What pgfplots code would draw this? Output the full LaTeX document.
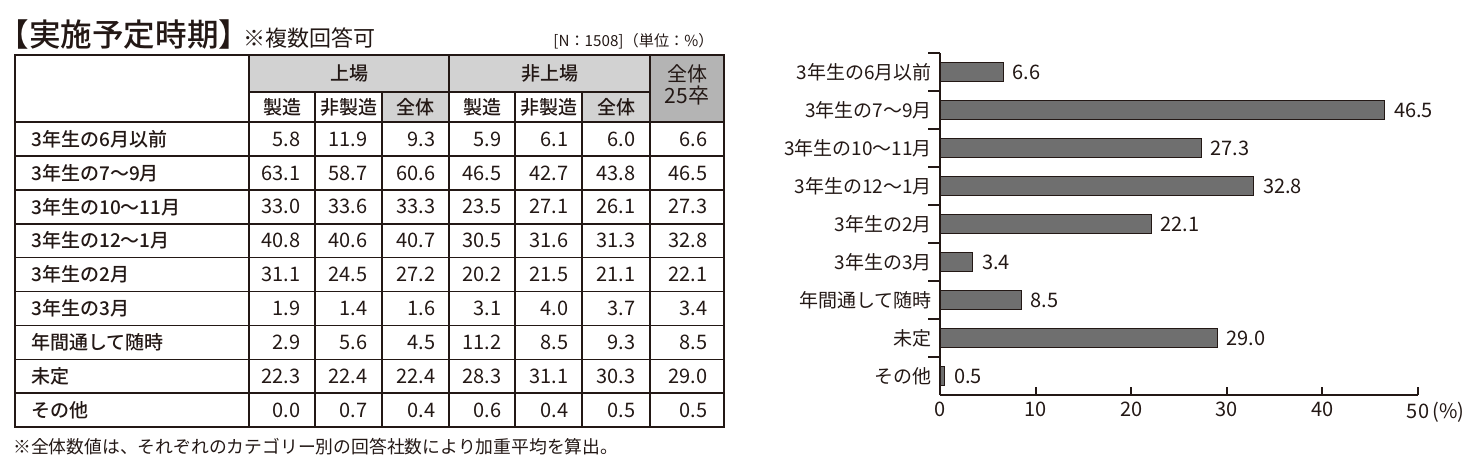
\documentclass[border=0pt]{standalone}
\usepackage{fontspec}
\setmainfont{Noto Sans CJK JP}[BoldFont={Noto Sans CJK JP Medium}]
\usepackage{pgfplots}
\usepackage{pgfplotstable}
\pgfplotsset{compat=1.18}
\pgfkeys{/pgf/number format/assume math mode=true}

\definecolor{ink}{HTML}{231815}
\definecolor{hdr}{HTML}{D2D2D2}
\definecolor{hdrdark}{HTML}{B4B4B4}
\definecolor{barfill}{HTML}{6F6F6F}

\newcommand\numsize{\fontsize{10}{12}\selectfont}
\newcommand\labsize{\fontsize{9.5}{11}\selectfont}

% columns: a-c = 上場 (製造, 非製造, 全体), d-f = 非上場, g = 全体25卒
\pgfplotstableread{
label a b c d e f g
3年生の6月以前 5.8 11.9 9.3 5.9 6.1 6.0 6.6
3年生の7〜9月 63.1 58.7 60.6 46.5 42.7 43.8 46.5
3年生の10〜11月 33.0 33.6 33.3 23.5 27.1 26.1 27.3
3年生の12〜1月 40.8 40.6 40.7 30.5 31.6 31.3 32.8
3年生の2月 31.1 24.5 27.2 20.2 21.5 21.1 22.1
3年生の3月 1.9 1.4 1.6 3.1 4.0 3.7 3.4
年間通して随時 2.9 5.6 4.5 11.2 8.5 9.3 8.5
未定 22.3 22.4 22.4 28.3 31.1 30.3 29.0
その他 0.0 0.7 0.4 0.6 0.4 0.5 0.5
}\timing

\pgfplotsset{
  cellnum/.style={draw=none, mark=none,
    point meta=explicit,
    nodes near coords={\pgfmathprintnumber[fixed,fixed zerofill,precision=1]{\pgfplotspointmeta}},
    every node near coord/.append style={anchor=east, inner sep=0pt, font=\numsize, text=ink}},
}

\begin{document}
\begin{tikzpicture}[text=ink]
% whole canvas in pixel units (table, titles, notes)
\begin{axis}[
  at={(0,0)}, anchor=south west,
  width=741pt, height=238pt, scale only axis,
  xmin=0, xmax=1482, ymin=0, ymax=476, y dir=reverse,
  hide axis, clip=false,
]
\fill[hdr] (axis cs:249,55) rectangle (axis cs:650,92);
\fill[hdr] (axis cs:382,92) rectangle (axis cs:449,122);
\fill[hdr] (axis cs:582,92) rectangle (axis cs:650,122);
\fill[hdrdark] (axis cs:650,55) rectangle (axis cs:724,122);

\draw[ink, line width=0.8pt]
  (axis cs:15,155.9) -- (axis cs:724,155.9)
  (axis cs:15,189.8) -- (axis cs:724,189.8)
  (axis cs:15,223.7) -- (axis cs:724,223.7)
  (axis cs:15,257.6) -- (axis cs:724,257.6)
  (axis cs:15,291.5) -- (axis cs:724,291.5)
  (axis cs:15,325.4) -- (axis cs:724,325.4)
  (axis cs:15,359.3) -- (axis cs:724,359.3)
  (axis cs:15,393.2) -- (axis cs:724,393.2)
  (axis cs:249,92) -- (axis cs:650,92)
  (axis cs:315,92) -- (axis cs:315,427)
  (axis cs:382,92) -- (axis cs:382,427)
  (axis cs:515,92) -- (axis cs:515,427)
  (axis cs:582,92) -- (axis cs:582,427);
\draw[ink, line width=1pt]
  (axis cs:15,122) -- (axis cs:724,122)
  (axis cs:249,55) -- (axis cs:249,427)
  (axis cs:449,55) -- (axis cs:449,427)
  (axis cs:650,55) -- (axis cs:650,427);
\draw[ink, line width=1.2pt] (axis cs:15,55) rectangle (axis cs:724,427);

\node[font=\bfseries\labsize] at (axis cs:349,73.5) {上場};
\node[font=\bfseries\labsize] at (axis cs:549.5,73.5) {非上場};
\node[font=\fontsize{10}{12}\selectfont] at (axis cs:687,74) {全体};
\node[font=\fontsize{10.5}{12}\selectfont] at (axis cs:687,96) {25卒};
\node[font=\bfseries\labsize] at (axis cs:282,107) {製造};
\node[font=\bfseries\labsize] at (axis cs:348.5,107) {非製造};
\node[font=\bfseries\labsize] at (axis cs:415.5,107) {全体};
\node[font=\bfseries\labsize] at (axis cs:482,107) {製造};
\node[font=\bfseries\labsize] at (axis cs:548.5,107) {非製造};
\node[font=\bfseries\labsize] at (axis cs:616,107) {全体};

\node[anchor=west, inner sep=0pt, font=\bfseries\fontsize{15.8}{18}\selectfont] at (axis cs:-3,35) {【実施予定時期】};
\node[anchor=west, inner sep=0pt, font=\fontsize{11}{13}\selectfont] at (axis cs:243,38) {※複数回答可};
\node[anchor=east, inner sep=0pt, font=\fontsize{7.6}{9}\selectfont] at (axis cs:714,41) {[N：1508]（単位：\%）};
\node[anchor=west, inner sep=0pt, font=\fontsize{8.9}{10}\selectfont] at (axis cs:13,447) {※全体数値は、それぞれのカテゴリー別の回答社数により加重平均を算出。};

% row labels
\addplot[draw=none, mark=none, point meta=explicit symbolic,
  nodes near coords={\pgfplotspointmeta},
  every node near coord/.append style={anchor=west, inner sep=0pt, font=\bfseries\labsize, text=ink}]
  table[x expr=31, y expr=139+33.9*\coordindex, meta=label] {\timing};
% cell values
\addplot[cellnum] table[x expr=301, y expr=139+33.9*\coordindex, meta=a] {\timing};
\addplot[cellnum] table[x expr=368, y expr=139+33.9*\coordindex, meta=b] {\timing};
\addplot[cellnum] table[x expr=436, y expr=139+33.9*\coordindex, meta=c] {\timing};
\addplot[cellnum] table[x expr=502, y expr=139+33.9*\coordindex, meta=d] {\timing};
\addplot[cellnum] table[x expr=569, y expr=139+33.9*\coordindex, meta=e] {\timing};
\addplot[cellnum] table[x expr=636, y expr=139+33.9*\coordindex, meta=f] {\timing};
\addplot[cellnum] table[x expr=708, y expr=139+33.9*\coordindex, meta=g] {\timing};
\end{axis}

% bar chart of 全体25卒
\begin{axis}[
  at={(470pt,40.5pt)}, anchor=south west,
  width=239pt, height=171pt, scale only axis,
  xmin=0, xmax=50, ymin=-0.5, ymax=8.5, y dir=reverse,
  axis x line=bottom, axis y line=left,
  axis line style={ink, line width=1pt, -},
  tick align=inside, major tick length=4pt,
  xtick={0,10,...,50},
  xticklabels={0,10,20,30,40,{50\makebox[0pt][l]{\,(\%)}}},
  xtick style={ink, line width=1pt},
  xticklabel style={font=\numsize, text=ink},
  ytick={0,...,8},
  yticklabels from table={\timing}{label},
  ytick style={draw=none},
  yticklabel style={font=\labsize, text=ink, xshift=3.5pt},
  extra y ticks={-0.5,0.5,...,7.5},
  extra y tick labels={},
  extra y tick style={major tick length=6pt, ytick style={draw=ink, line width=1pt}},
  xbar, bar width=9.5pt, bar shift=0pt,
  nodes near coords={\pgfmathprintnumber[fixed,fixed zerofill,precision=1]{\pgfplotspointmeta}},
  every node near coord/.append style={font=\numsize, text=ink, inner sep=4.5pt},
]
\addplot[fill=barfill, draw=ink, line width=0.5pt] table[x=g, y expr=\coordindex] {\timing};
\end{axis}
\pgfresetboundingbox
\useasboundingbox (0,0) rectangle (741pt,238pt);
\end{tikzpicture}
\end{document}
